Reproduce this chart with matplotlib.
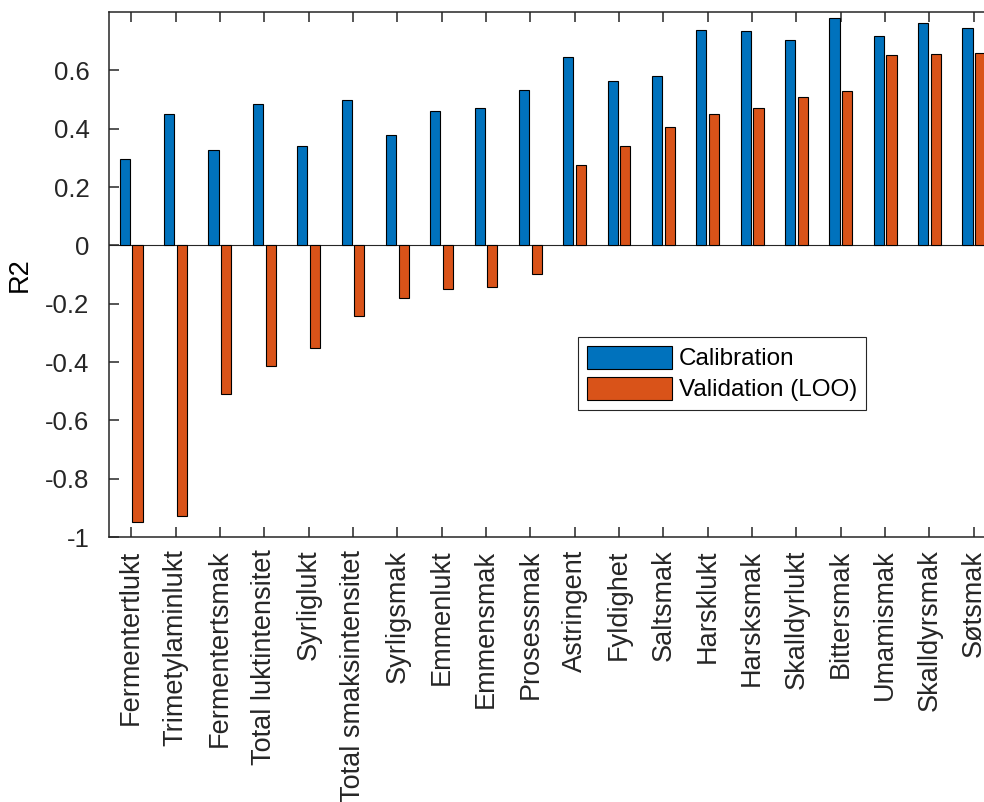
import numpy as np
import matplotlib
matplotlib.use("Agg")
import matplotlib.pyplot as plt

plt.rcParams['font.family'] = ['Liberation Sans', 'DejaVu Sans']

attributes = ['Fermentertlukt', 'Trimetylaminlukt', 'Fermentertsmak', 'Total luktintensitet',
              'Syrliglukt', 'Total smaksintensitet', 'Syrligsmak', 'Emmenlukt', 'Emmensmak',
              'Prosessmak', 'Astringent', 'Fyldighet', 'Saltsmak', 'Harsklukt', 'Harsksmak',
              'Skalldyrlukt', 'Bittersmak', 'Umamismak', 'Skalldyrsmak', 'Søtsmak']
calibration = [0.295, 0.449, 0.328, 0.485, 0.340, 0.499, 0.377, 0.462, 0.472, 0.532,
               0.645, 0.563, 0.582, 0.740, 0.736, 0.703, 0.778, 0.717, 0.761, 0.746]
validation = [-0.949, -0.928, -0.510, -0.412, -0.352, -0.243, -0.180, -0.150, -0.142, -0.099,
              0.276, 0.341, 0.405, 0.452, 0.470, 0.507, 0.530, 0.654, 0.656, 0.660]
yticks = [-1, -0.8, -0.6, -0.4, -0.2, 0, 0.2, 0.4, 0.6]
ytick_labels = ['-1', '-0.8', '-0.6', '-0.4', '-0.2', '0', '0.2', '0.4', '0.6']

x = np.arange(1, len(attributes) + 1)
w = 0.229
off = 0.143

fig = plt.figure(figsize=(9.84, 8.02), dpi=100)
ax = fig.add_axes([0.1108, 0.3304, 0.9014, 0.6546])

ax.bar(x - off, calibration, w, color='#0072BD', edgecolor='black', linewidth=0.8,
       label='Calibration', zorder=2)
ax.bar(x + off, validation, w, color='#D95319', edgecolor='black', linewidth=0.8,
       label='Validation (LOO)', zorder=2)
ax.axhline(0, color='#262626', linewidth=0.8, zorder=1)

ax.set_xlim(0.5, 20.5)
ax.set_ylim(-1, 0.8)
ax.set_xticks(x)
ax.set_xticklabels(attributes, rotation=90, fontsize=19.5)
ax.set_yticks(yticks)
ax.set_yticklabels(ytick_labels, fontsize=18.5)
ax.set_ylabel('R2', fontsize=19.5, labelpad=9)

ax.tick_params(axis='both', direction='in', length=7, width=1.1, colors='#262626',
               labelcolor='#262626', top=True, right=True)
ax.tick_params(axis='x', pad=9)
ax.tick_params(axis='y', pad=14)
for s in ax.spines.values():
    s.set_linewidth(1.1)
    s.set_color('#262626')

leg = ax.legend(loc='upper left', bbox_to_anchor=(0.529, 0.381), borderaxespad=0,
                fontsize=17.5, fancybox=False, edgecolor='#262626', framealpha=1,
                handlelength=3.5, handleheight=1.1, handletextpad=0.3,
                labelspacing=0.25, borderpad=0.35)
leg.get_frame().set_linewidth(0.8)

fig.savefig('out.png', dpi=100)
